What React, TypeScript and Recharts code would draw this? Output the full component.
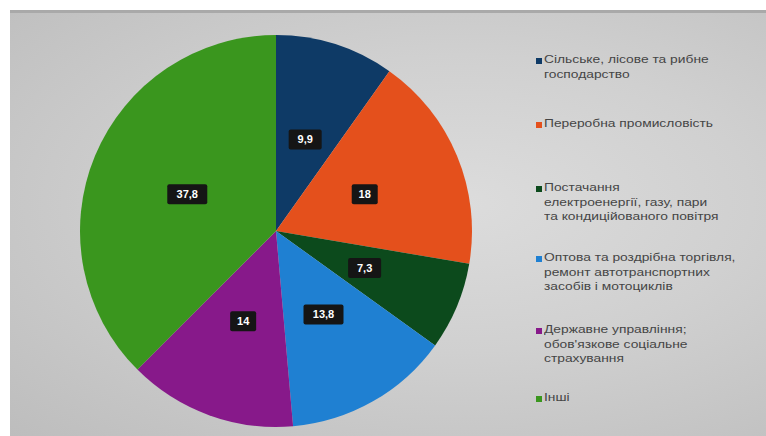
import React from "react";
import { PieChart, Pie, Cell, Legend } from "recharts";

const categories = [
  "Сільське, лісове та рибне господарство",
  "Переробна промисловість",
  "Постачання електроенергії, газу, пари та кондиційованого повітря",
  "Оптова та роздрібна торгівля, ремонт автотранспортних засобів і мотоциклів",
  "Державне управління; обов'язкове соціальне страхування",
  "Інші",
];
const legendLines = [
  ["Сільське, лісове та рибне", "господарство"],
  ["Переробна промисловість"],
  ["Постачання", "електроенергії, газу, пари", "та кондиційованого повітря"],
  ["Оптова та роздрібна торгівля,", "ремонт автотранспортних", "засобів і мотоциклів"],
  ["Державне управління;", "обов'язкове соціальне", "страхування"],
  ["Інші"],
];
const values = [9.9, 18, 7.3, 13.8, 14, 37.8];
const valueLabels = ["9,9", "18", "7,3", "13,8", "14", "37,8"];
const colors = ["#0e3a66", "#e4501c", "#0c4a1c", "#1f80d2", "#87198a", "#3a961e"];

const data = categories.map((name, i) => ({ name, value: values[i], label: valueLabels[i] }));

const RAD = Math.PI / 180;

const renderLabel = (props: any) => {
  const { cx, cy, midAngle, outerRadius, index } = props;
  const r = outerRadius * 0.49;
  const x = cx + r * Math.cos(-midAngle * RAD);
  const y = cy + r * Math.sin(-midAngle * RAD);
  const text = valueLabels[index];
  const w = text.length * 7 + 12;
  return (
    <g key={"lbl" + index}>
      <rect x={x - w / 2} y={y - 10} width={w} height={20} fill="#151515" rx={2} />
      <text x={x} y={y + 4} textAnchor="middle" fill="#fff" fontSize={11} fontWeight="bold" fontFamily="'Liberation Sans', Arial, sans-serif">
        {text}
      </text>
    </g>
  );
};

const legendTops = [53, 117, 181, 251, 323, 391];

const renderLegend = () => {
  return (
    <div style={{ position: "relative", width: 240, height: 436 }}>
      {categories.map((name, i) => (
        <div
          key={i}
          title={name}
          style={{
            position: "absolute",
            top: legendTops[i],
            left: 0,
            display: "flex",
            alignItems: "flex-start",
            fontFamily: "'Liberation Sans', Arial, sans-serif",
            fontSize: 10,
            lineHeight: "14.5px",
            color: "#454545",
            whiteSpace: "nowrap",
          }}
        >
          <span
            style={{
              display: "inline-block",
              width: 6,
              height: 6,
              background: colors[i],
              marginTop: 5,
              marginRight: 2,
              flexShrink: 0,
            }}
          />
          <span style={{ display: "inline-block", transform: "scaleX(1.38)", transformOrigin: "left top" }}>
            {legendLines[i].map((l, j) => (
              <div key={j}>{l}</div>
            ))}
          </span>
        </div>
      ))}
    </div>
  );
};

export default function App() {
  return (
    <div style={{ position: "absolute", left: 0, top: 0, width: 766, height: 436, background: "#fff", overflow: "hidden" }}>
      <div
        style={{
          position: "absolute",
          left: 10,
          top: 10,
          width: 756,
          height: 426,
          background: "radial-gradient(ellipse at 60% 45%, #dcdcdc 0%, #d0d0d0 45%, #bdbdbd 100%)",
          borderTop: "3px solid #a9a9a9",
          boxSizing: "border-box",
        }}
      />
      <div style={{ position: "absolute", left: 0, top: 0 }}>
        <PieChart width={766} height={436}>
          <Pie
            data={data}
            dataKey="value"
            nameKey="name"
            cx={271}
            cy={226}
            outerRadius={196}
            startAngle={90}
            endAngle={-270}
            stroke="none"
            isAnimationActive={false}
            label={renderLabel}
            labelLine={false}
          >
            {data.map((d, i) => (
              <Cell key={i} fill={colors[i]} />
            ))}
          </Pie>
          <Legend
            layout="vertical"
            align="right"
            verticalAlign="top"
            content={renderLegend}
            wrapperStyle={{ left: 536, top: 0, width: 240, height: 436 }}
          />
        </PieChart>
      </div>
    </div>
  );
}
